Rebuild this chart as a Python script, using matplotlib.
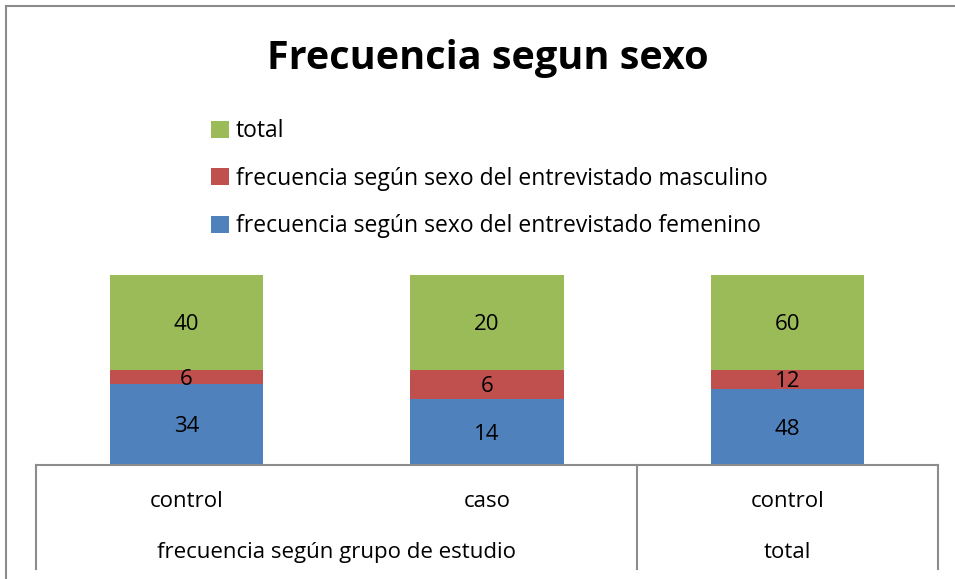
import matplotlib.pyplot as plt
import numpy as np
from matplotlib.lines import Line2D

plt.rcParams['font.family'] = ['Open Sans', 'DejaVu Sans']

categories = ["control", "caso", "control"]
groups = ["frecuencia según grupo de estudio", "total"]
femenino = [34, 14, 48]
masculino = [6, 6, 12]
total = [40, 20, 60]
series_names = ["frecuencia según sexo del entrevistado femenino",
                "frecuencia según sexo del entrevistado masculino",
                "total"]
colors = ["#4F81BD", "#C0504D", "#9BBB59"]

W, H = 955, 579
fig = plt.figure(figsize=(W / 100, H / 100), dpi=100)
ax = fig.add_axes([36 / W, (H - 465) / H, (938 - 36) / W, 190 / H])

data = np.array([femenino, masculino, total], dtype=float)
sums = data.sum(axis=0)
x = np.arange(len(categories))
bottom = np.zeros(len(categories))
bars = []
fs = 16
for vals, name, c in zip(data, series_names, colors):
    frac = vals / sums
    b = ax.bar(x, frac, 0.51, bottom=bottom, color=c, label=name)
    bars.append(b)
    for xi, f, bt, v in zip(x, frac, bottom, vals):
        ax.text(xi, bt + f / 2 - 0.012, f"{int(v)}", ha="center", va="center", fontsize=fs)
    bottom += frac

ax.set_xlim(-0.5, 2.5)
ax.set_ylim(0, 1)
ax.axis("off")

# category axis table
lc = "#8c8c8c"
ax.plot([-0.5, 2.5], [0, 0], color=lc, lw=1.5, clip_on=False)
for xv in [-0.5, 1.5, 2.5]:
    ax.plot([xv, xv], [0, -0.545], color=lc, lw=1.5, clip_on=False)
for xi, cat in zip(x, categories):
    ax.text(xi, -0.19, cat, ha="center", va="center", fontsize=fs)
ax.text(0.5, -0.458, groups[0], ha="center", va="center", fontsize=fs)
ax.text(2, -0.458, groups[1], ha="center", va="center", fontsize=fs)

# outer border
fig.add_artist(Line2D([6 / W, 6 / W], [0, 1 - 6 / H], color=lc, lw=1.5))
fig.add_artist(Line2D([6 / W, 1], [1 - 6 / H, 1 - 6 / H], color=lc, lw=1.5))

fig.text(488 / W, 1 - 58 / H, "Frecuencia segun sexo", ha="center", va="center",
         fontsize=28.5, fontweight="bold")

handles = [bars[2], bars[1], bars[0]]
fig.legend(handles, [series_names[2], series_names[1], series_names[0]],
           loc="upper left", bbox_to_anchor=(200 / W, 1 - 108 / H),
           frameon=False, fontsize=16.5, handlelength=0.75, handleheight=0.75,
           handletextpad=0.3, labelspacing=1.02, borderpad=0)

fig.savefig("out.png", dpi=100)
